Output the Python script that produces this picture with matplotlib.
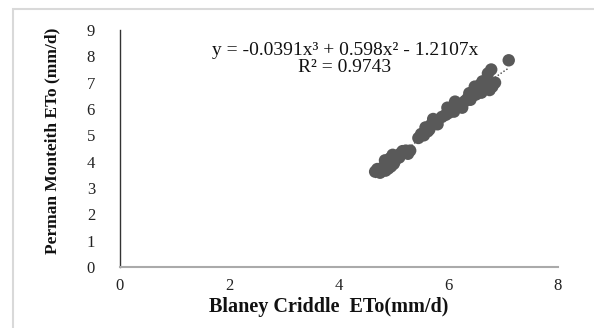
import numpy as np
import matplotlib
matplotlib.use("Agg")
import matplotlib.pyplot as plt
from matplotlib.patches import Rectangle

# ── Data ────────────────────────────────────
bc_eto = [4.66, 4.72, 4.78, 4.85, 4.80, 4.90, 4.95, 4.88, 4.75, 5.00,
          4.84, 4.93, 5.02, 5.06, 5.12, 5.20, 5.10, 5.26, 4.98, 5.16,
          5.30, 5.45, 5.50, 5.55, 5.62, 5.58, 5.68, 5.75, 5.80, 5.72,
          5.88, 5.95, 6.00, 6.05, 6.10, 5.98, 6.15, 6.20, 6.25, 6.12,
          6.30, 6.35, 6.40, 6.45, 6.38, 6.50, 6.55, 6.60, 6.48, 6.65,
          6.70, 6.75, 6.80, 6.62, 6.85, 6.72, 6.78, 7.10, 4.70, 4.92,
          5.22, 5.65, 6.02, 6.58]
pm_eto = [3.62, 3.65, 3.70, 3.66, 3.78, 3.74, 3.82, 3.88, 3.58, 3.92,
          4.05, 4.12, 4.02, 4.22, 4.30, 4.36, 4.16, 4.30, 4.26, 4.40,
          4.42, 4.90, 5.05, 5.00, 5.15, 5.30, 5.40, 5.50, 5.42, 5.62,
          5.70, 5.78, 5.85, 5.95, 5.90, 6.05, 6.10, 6.18, 6.05, 6.28,
          6.30, 6.40, 6.35, 6.52, 6.60, 6.55, 6.70, 6.62, 6.85, 6.78,
          6.95, 6.72, 6.85, 7.05, 7.00, 7.35, 7.50, 7.85, 3.72, 3.95,
          4.42, 5.22, 6.00, 6.92]

coef = [-0.0391, 0.598, -1.2107, 0.0]  # cubic trendline, no intercept
equation = "y = -0.0391x³ + 0.598x² - 1.2107x"
r2_text = "R² = 0.9743"

x_ticks = [0, 2, 4, 6, 8]
y_ticks = [0, 1, 2, 3, 4, 5, 6, 7, 8, 9]

SERIF = ["Liberation Serif", "DejaVu Serif"]
MARK = "#595959"

fig = plt.figure(figsize=(5.94, 3.28), dpi=100, facecolor="white")
fig.patches.append(Rectangle((13 / 594, -0.05), 1.1, 1 - 9 / 328 + 0.05,
                             transform=fig.transFigure, fill=False,
                             edgecolor="#d9d9d9", linewidth=1.5))

ax = fig.add_axes([120 / 594, 1 - 267 / 328, 438 / 594, 237 / 328])
ax.scatter(bc_eto, pm_eto, s=80, color=MARK, edgecolors="none", zorder=3)

xt = np.linspace(min(bc_eto), max(bc_eto), 50)
ax.plot(xt, np.polyval(coef, xt), linestyle=(0, (1, 1.5)), color="#404040",
        linewidth=1.0, zorder=2)

ax.set_xlim(0, 8)
ax.set_ylim(0, 9)
ax.set_xticks(x_ticks)
ax.set_yticks(y_ticks)
ax.tick_params(length=0, pad=8, labelsize=12, colors="#222222")
ax.tick_params(axis="y", pad=18)
for lab in ax.get_xticklabels() + ax.get_yticklabels():
    lab.set_family(SERIF)

for s in ["top", "right"]:
    ax.spines[s].set_visible(False)
ax.spines["left"].set_color("#333333")
ax.spines["left"].set_linewidth(1.0)
ax.spines["bottom"].set_color("#aaaaaa")
ax.spines["bottom"].set_linewidth(1.5)

ax.text(4.11, 8.24, equation, ha="center", va="center", fontsize=14,
        family=SERIF, color="#111111")
ax.text(4.11, 7.56, r2_text, ha="center", va="center", fontsize=14,
        family=SERIF, color="#111111")

fig.text(329 / 594, 1 - 307 / 328, "Blaney Criddle  ETo(mm/d)", ha="center",
         va="center", fontsize=14.5, fontweight="bold", family=SERIF,
         color="#111111")
fig.text(52 / 594, 1 - 141 / 328, "Perman Monteith ETo (mm/d)", ha="center",
         va="center", rotation=90, fontsize=12.5, fontweight="bold",
         family=SERIF, color="#111111")

fig.savefig("out.png", dpi=100, facecolor="white")
